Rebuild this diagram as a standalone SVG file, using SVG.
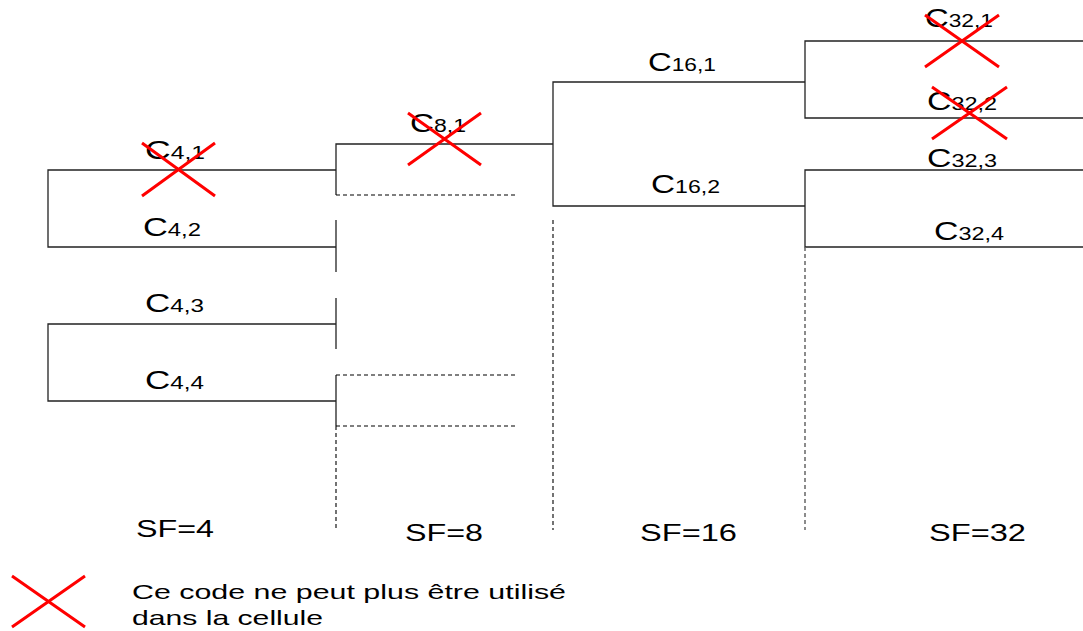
<svg xmlns="http://www.w3.org/2000/svg" width="1083" height="631" viewBox="0 0 1083 631">
<style>
.ln{stroke:#222;stroke-width:1.3;fill:none}
.dl{stroke:#000;stroke-width:1.1;fill:none;stroke-dasharray:4 3}
.dg{stroke:#666;stroke-width:1.5;fill:none;stroke-dasharray:4 3}
.x{stroke:#ff0000;stroke-width:3;fill:none}
.t{font-family:"Liberation Sans",Arial,sans-serif;fill:#000}
.c{font-size:26px}
.s{font-size:18px}
.sf{font-size:24px}
.lg{font-size:21px}
</style>
<rect width="1083" height="631" fill="#fff"/>
<g id="connectors">
<path class="ln" d="M336,170H48V247H336"/>
<path class="ln" d="M336,324H48V401H336"/>
<path class="ln" d="M553,144H336V195"/>
<path class="dl" d="M336,195H516"/>
<path class="ln" d="M336,220V272"/>
<path class="ln" d="M336,298V349"/>
<path class="ln" d="M336,375V426"/>
<path class="dl" d="M336,375H516M336,426H516M336,426V530"/>
<path class="ln" d="M805,82H553V206H805"/>
<path class="dl" d="M553,220V530"/>
<path class="ln" d="M1083,41H805V118H1083"/>
<path class="ln" d="M1083,170H805V247H1083"/>
<path class="dg" d="M805,247V530"/>
</g>
<g id="c41"><text class="t c" x="145" y="159" textLength="60" lengthAdjust="spacingAndGlyphs">C<tspan class="s">4,1</tspan></text><path class="x" d="M142,143L215,196M215,143L142,196"/></g>
<g id="c42"><text class="t c" x="143" y="236" textLength="58" lengthAdjust="spacingAndGlyphs">C<tspan class="s">4,2</tspan></text></g>
<g id="c43"><text class="t c" x="145" y="312" textLength="59" lengthAdjust="spacingAndGlyphs">C<tspan class="s">4,3</tspan></text></g>
<g id="c44"><text class="t c" x="145" y="389" textLength="59" lengthAdjust="spacingAndGlyphs">C<tspan class="s">4,4</tspan></text></g>
<g id="c81"><text class="t c" x="410" y="132" textLength="56" lengthAdjust="spacingAndGlyphs">C<tspan class="s">8,1</tspan></text><path class="x" d="M408,113L481,165M481,113L408,165"/></g>
<g id="c161"><text class="t c" x="648" y="71" textLength="68" lengthAdjust="spacingAndGlyphs">C<tspan class="s">16,1</tspan></text></g>
<g id="c162"><text class="t c" x="651" y="193" textLength="69" lengthAdjust="spacingAndGlyphs">C<tspan class="s">16,2</tspan></text></g>
<g id="c321"><text class="t c" x="925" y="27" textLength="68" lengthAdjust="spacingAndGlyphs">C<tspan class="s">32,1</tspan></text><path class="x" d="M925,67L999,15M925,15L999,67"/></g>
<g id="c322"><text class="t c" x="927" y="110" textLength="70" lengthAdjust="spacingAndGlyphs">C<tspan class="s">32,2</tspan></text><path class="x" d="M932,139L1007,87M932,87L1007,139"/></g>
<g id="c323"><text class="t c" x="927" y="167" textLength="70" lengthAdjust="spacingAndGlyphs">C<tspan class="s">32,3</tspan></text></g>
<g id="c324"><text class="t c" x="934" y="240" textLength="70" lengthAdjust="spacingAndGlyphs">C<tspan class="s">32,4</tspan></text></g>
<g id="sf-labels">
<text class="t sf" x="136" y="537" textLength="78" lengthAdjust="spacingAndGlyphs">SF=4</text>
<text class="t sf" x="405" y="541" textLength="78" lengthAdjust="spacingAndGlyphs">SF=8</text>
<text class="t sf" x="640" y="541" textLength="97" lengthAdjust="spacingAndGlyphs">SF=16</text>
<text class="t sf" x="929" y="541" textLength="97" lengthAdjust="spacingAndGlyphs">SF=32</text>
</g>
<g id="legend">
<path class="x" d="M12,576L85,627M85,576L12,627"/>
<text class="t lg" x="132" y="599" textLength="434" lengthAdjust="spacingAndGlyphs">Ce code ne peut plus être utilisé</text>
<text class="t lg" x="132" y="625" textLength="191" lengthAdjust="spacingAndGlyphs">dans la cellule</text>
</g>
</svg>
